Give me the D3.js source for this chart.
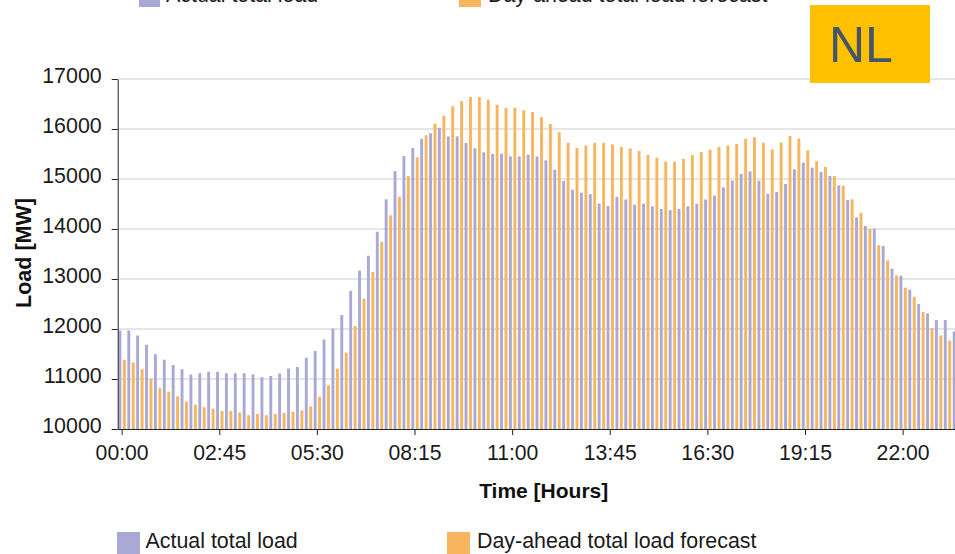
<!DOCTYPE html>
<html><head><meta charset="utf-8">
<script src="https://cdn.jsdelivr.net/npm/d3@7"></script>
<style>
body{margin:0;background:#fff;overflow:hidden}
svg{display:block;font-family:"Liberation Sans",Arial,sans-serif}
</style>
</head><body>
<svg id="c" width="955" height="554"></svg>
<script>
// 96 quarter-hour slots 00:00 .. 23:45
const slots = d3.range(96).map(i => String(Math.floor(i / 4)).padStart(2, "0") + ":" + String((i % 4) * 15).padStart(2, "0"));
const tickLabels = ["00:00","02:45","05:30","08:15","11:00","13:45","16:30","19:15","22:00"];
const yTicks = [10000,11000,12000,13000,14000,15000,16000,17000];
const seriesNames = ["Actual total load", "Day-ahead total load forecast"];

const actualLoad = [
11970,11970,11870,11685,11495,11385,11280,11195,11090,11115,11145,11145,11115,11115,11115,11090,
11035,11060,11110,11210,11240,11425,11560,11790,12010,12280,12765,13165,13465,13945,14595,15160,
15460,15620,15805,15915,16025,15853,15853,15720,15615,15535,15500,15505,15453,15453,15485,15453,
15375,15185,14960,14785,14727,14697,14510,14460,14645,14590,14485,14507,14455,14403,14377,14403,
14455,14507,14590,14670,14833,14967,15100,15153,14967,14705,14740,14900,15193,15327,15227,15140,
15060,14873,14580,14233,14060,14007,13660,13207,13067,12787,12500,12313,12180,12180,11950,11800
];
const forecastLoad = [
11385,11330,11195,11005,10815,10745,10655,10550,10490,10435,10410,10360,10360,10330,10275,10303,
10275,10300,10320,10347,10373,10453,10643,10873,11207,11527,12060,12607,13140,13740,14273,14647,
15060,15433,15873,16107,16265,16453,16560,16640,16640,16585,16485,16425,16425,16373,16340,16237,
16100,15937,15723,15620,15670,15723,15723,15693,15643,15613,15560,15480,15427,15347,15347,15400,
15480,15537,15587,15640,15670,15700,15803,15837,15725,15590,15730,15863,15810,15573,15357,15240,
15060,14863,14593,14323,14000,13677,13370,13073,12827,12643,12340,12020,11870,11770,11600,11500
];

const colors = {actual: "#aaa9d5", forecast: "#f7b55d"};
const keys = ["actual", "forecast"];
const rows = slots.map((s, i) => ({slot: s, actual: actualLoad[i], forecast: forecastLoad[i]}));

const svg = d3.select("#c");
const pLeft = 117.7, pRight = 969.7, pTop = 79, pBottom = 429;

const x0 = d3.scaleBand().domain(slots).range([pLeft, pRight]).paddingInner(0).paddingOuter(0);
const x1 = d3.scaleBand().domain(keys).range([0, x0.bandwidth()]).paddingInner(0.35).paddingOuter(0.17);
const y = d3.scaleLinear().domain([10000, 17000]).range([pBottom, pTop]);

// grid
svg.append("g").selectAll("line").data(yTicks.slice(1)).join("line")
  .attr("x1", pLeft).attr("x2", pRight)
  .attr("y1", d => y(d)).attr("y2", d => y(d))
  .attr("stroke", "#e6e6e6").attr("stroke-width", 2);

// bars
svg.append("g").selectAll("g").data(rows).join("g")
  .attr("transform", d => `translate(${x0(d.slot)},0)`)
  .selectAll("rect").data(d => keys.map(k => ({k, v: d[k]}))).join("rect")
  .attr("x", d => x1(d.k)).attr("width", x1.bandwidth())
  .attr("y", d => y(d.v)).attr("height", d => y(10000) - y(d.v))
  .attr("fill", d => colors[d.k]);

// axes
const yAxis = svg.append("g").attr("transform", `translate(${pLeft},0)`)
  .call(d3.axisLeft(y).tickValues(yTicks).tickFormat(d3.format("d")).tickSize(6).tickPadding(10).tickSizeOuter(0));
yAxis.selectAll("text").attr("font-size", 21.4).attr("font-family", "Liberation Sans, Arial, sans-serif").attr("fill", "#1a1a1a").attr("dy", "0.16em");
yAxis.selectAll("path,line").attr("stroke", "#222");

const xAxis = svg.append("g").attr("transform", `translate(0,${pBottom})`)
  .call(d3.axisBottom(x0).tickValues(tickLabels).tickSize(6).tickPadding(10).tickSizeOuter(0));
xAxis.selectAll("text").attr("font-size", 21.2).attr("font-family", "Liberation Sans, Arial, sans-serif").attr("fill", "#1a1a1a");
xAxis.selectAll("path,line").attr("stroke", "#222");

// axis titles
svg.append("text").attr("x", (pLeft + pRight) / 2).attr("y", 498).attr("text-anchor", "middle")
  .attr("font-weight", "bold").attr("font-size", 21).attr("fill", "#111").text("Time [Hours]");
svg.append("text").attr("transform", "rotate(-90)").attr("x", -(pTop + pBottom) / 2 + 1).attr("y", 31)
  .attr("text-anchor", "middle").attr("font-weight", "bold").attr("font-size", 21.5).attr("fill", "#111").text("Load [MW]");

// legends (bottom, and the cut-off copy at the top)
function legend(items) {
  items.forEach(it => {
    svg.append("rect").attr("x", it.rx).attr("y", it.ry).attr("width", it.w).attr("height", 22).attr("fill", colors[it.k]);
    svg.append("text").attr("x", it.tx).attr("y", it.ty).attr("font-size", 21.4).attr("fill", "#1a1a1a").text(seriesNames[keys.indexOf(it.k)]);
  });
}
legend([
  {k: "actual", rx: 117, ry: 532, w: 23, tx: 145.5, ty: 548},
  {k: "forecast", rx: 447, ry: 532, w: 23, tx: 477, ty: 548},
  {k: "actual", rx: 139, ry: -15, w: 21, tx: 166, ty: 1.5},
  {k: "forecast", rx: 459, ry: -15, w: 22, tx: 488, ty: 1.5}
]);

// country badge
svg.append("rect").attr("x", 810).attr("y", 5).attr("width", 120).attr("height", 78).attr("fill", "#ffc000");
svg.append("text").attr("x", 829).attr("y", 62).attr("font-size", 50).attr("fill", "#44546a").text("NL");
</script>
</body></html>
